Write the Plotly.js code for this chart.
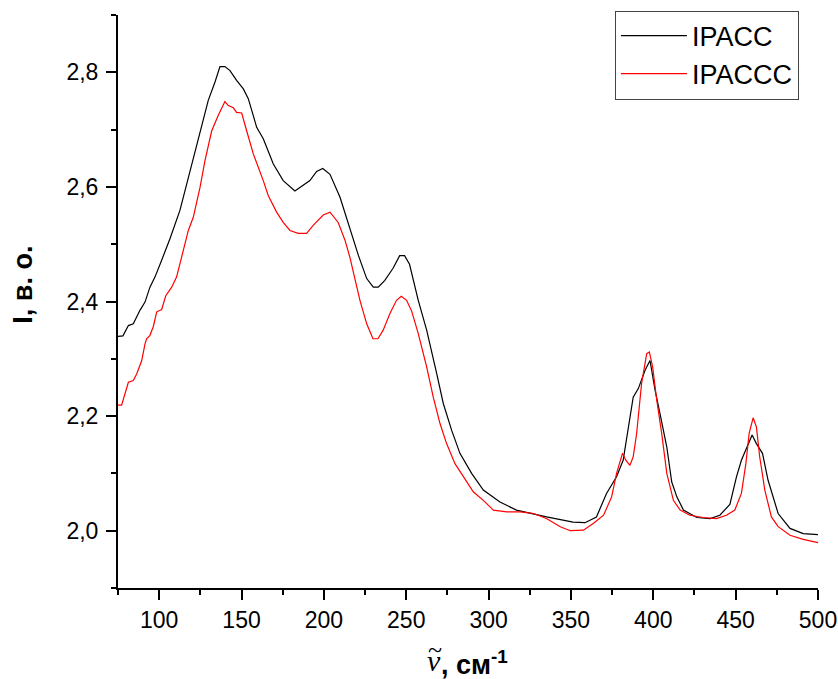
<!DOCTYPE html>
<html>
<head>
<meta charset="utf-8">
<script src="https://cdn.plot.ly/plotly-3.0.1.min.js"></script>
<style>html,body{margin:0;padding:0;background:#fff;}</style>
</head>
<body>
<div id="chart" style="width:838px;height:679px;"></div>
<script>
// IPACC (black)
const ipaccX = [75, 78, 81.3, 84.3, 88.4, 91.4, 94.4, 97.5, 101.5, 106.6, 112.6, 118.7, 124.8, 129.8, 133.9, 136.9, 139.9, 143.0, 147.0, 151.1, 154.1, 159.2, 163.2, 169.3, 175.3, 182.4, 191.5, 195.6, 199.3, 203.7, 209.8, 215.8, 221, 226, 230, 233, 237, 242, 246, 249, 252, 257.3, 262.4, 268.5, 272.5, 277.6, 282.6, 289.7, 296.8, 306.9, 316.9, 335.2, 351.3, 358.5, 365.5, 371.6, 377.7, 381.7, 384.8, 387.8, 390.9, 395, 398, 401.1, 404.1, 408.2, 411.2, 414.3, 418.3, 426.4, 434.5, 440.4, 446.5, 450.5, 453.5, 456.6, 460, 462.6, 466.3, 469.7, 475.8, 483, 491, 500];
const ipaccY = [2.339, 2.340, 2.358, 2.361, 2.385, 2.399, 2.425, 2.443, 2.472, 2.510, 2.559, 2.626, 2.695, 2.751, 2.783, 2.810, 2.810, 2.803, 2.786, 2.771, 2.754, 2.704, 2.684, 2.640, 2.611, 2.593, 2.611, 2.627, 2.632, 2.622, 2.582, 2.527, 2.480, 2.440, 2.425, 2.425, 2.437, 2.458, 2.480, 2.480, 2.465, 2.402, 2.350, 2.274, 2.222, 2.175, 2.135, 2.100, 2.071, 2.050, 2.036, 2.024, 2.015, 2.014, 2.024, 2.065, 2.094, 2.123, 2.181, 2.233, 2.248, 2.280, 2.297, 2.245, 2.204, 2.146, 2.085, 2.059, 2.036, 2.023, 2.021, 2.027, 2.046, 2.094, 2.123, 2.143, 2.167, 2.152, 2.135, 2.088, 2.030, 2.004, 1.995, 1.993];

// IPACCC (red)
const ipacccX = [75, 77.2, 81.3, 84.3, 86.4, 89.4, 91.4, 92.4, 94.4, 96.4, 98.5, 101.5, 104, 107.6, 110.6, 112.6, 117.7, 120.7, 124.8, 127.8, 131.9, 135.9, 139.9, 142, 145, 147, 150.1, 153.1, 157.1, 163.2, 166.2, 171.3, 175.3, 179.4, 184.4, 189.5, 193.5, 199.6, 203.7, 208.7, 212.8, 215.8, 221.9, 226, 229.8, 232.8, 236, 240.1, 244.1, 247, 250.2, 253.2, 257.3, 262.4, 266.4, 270.5, 274.5, 279.6, 284.7, 290.7, 296.8, 302.9, 311, 319.2, 327.3, 335.4, 343.5, 349.6, 357.6, 363.7, 369.8, 374.7, 377.7, 381.3, 383.3, 385.8, 387.8, 389.9, 392.9, 396, 397.6, 399.6, 402.1, 405.1, 408.2, 412.2, 416.3, 422.2, 430.3, 438.3, 444.4, 449.5, 453.5, 456.2, 458.2, 460.6, 462.6, 464.6, 467.7, 471.7, 475.8, 483, 491, 500];
const ipacccY = [2.219, 2.219, 2.259, 2.262, 2.274, 2.297, 2.326, 2.335, 2.341, 2.356, 2.382, 2.386, 2.410, 2.425, 2.443, 2.466, 2.524, 2.547, 2.599, 2.646, 2.698, 2.725, 2.749, 2.742, 2.738, 2.730, 2.729, 2.698, 2.658, 2.611, 2.585, 2.556, 2.538, 2.524, 2.519, 2.519, 2.533, 2.551, 2.556, 2.538, 2.507, 2.477, 2.402, 2.361, 2.335, 2.335, 2.350, 2.379, 2.402, 2.409, 2.402, 2.384, 2.344, 2.286, 2.233, 2.187, 2.152, 2.117, 2.094, 2.068, 2.053, 2.036, 2.033, 2.033, 2.030, 2.021, 2.007, 2.000, 2.001, 2.013, 2.027, 2.059, 2.100, 2.135, 2.123, 2.114, 2.129, 2.170, 2.257, 2.309, 2.312, 2.286, 2.228, 2.170, 2.100, 2.053, 2.036, 2.027, 2.023, 2.021, 2.027, 2.036, 2.065, 2.117, 2.170, 2.197, 2.181, 2.129, 2.071, 2.024, 2.007, 1.992, 1.985, 1.979];

const seriesNames = ['IPACC', 'IPACCC'];
const xTitleSymbol = 'ν';
const xTitleAccent = '~';
const xTitleUnit = ', см<sup>-1</sup>';
const yTitle = 'I, в. о.';

const font = 'Liberation Sans, Arial, sans-serif';
const serif = 'Liberation Serif, Times New Roman, serif';

const traces = [
  {x: ipaccX, y: ipaccY, name: seriesNames[0], type: 'scatter', mode: 'lines',
   line: {color: '#000000', width: 1.2}},
  {x: ipacccX, y: ipacccY, name: seriesNames[1], type: 'scatter', mode: 'lines',
   line: {color: '#ff0000', width: 1.2}}
];

const axisCommon = {
  showgrid: false, zeroline: false, showline: true, linewidth: 2, linecolor: '#000',
  ticks: 'outside', ticklen: 10, tickwidth: 2, tickcolor: '#000',
  tickfont: {family: font, size: 23, color: '#000'},
  mirror: false
};

const layout = {
  width: 838, height: 679,
  margin: {l: 118, r: 20, t: 14, b: 91, pad: 0},
  paper_bgcolor: '#fff', plot_bgcolor: '#fff',
  separators: ', ',
  font: {family: font, color: '#000'},
  xaxis: Object.assign({}, axisCommon, {
    range: [75, 500], tickmode: 'linear', tick0: 0, dtick: 50,
    minor: {tick0: 0, dtick: 25, ticks: 'outside', ticklen: 5, tickwidth: 2, tickcolor: '#000', showgrid: false}
  }),
  yaxis: Object.assign({}, axisCommon, {
    range: [1.9, 2.9], tickmode: 'linear', tick0: 2.0, dtick: 0.2, tickformat: '.1f',
    ticklabelstandoff: 3,
    minor: {tick0: 2.0, dtick: 0.1, ticks: 'outside', ticklen: 5, tickwidth: 2, tickcolor: '#000', showgrid: false}
  }),
  showlegend: true,
  legend: {
    x: 0.9728, xanchor: 'right', y: 1.006, yanchor: 'top',
    bgcolor: '#fff', bordercolor: '#444', borderwidth: 1,
    font: {family: font, size: 27, color: '#000'},
    itemwidth: 66, tracegroupgap: 0
  },
  annotations: [
    {text: yTitle, xref: 'paper', yref: 'paper', x: -0.137, y: 0.5296,
     xanchor: 'center', yanchor: 'middle', textangle: -90, showarrow: false,
     font: {family: font, size: 27, color: '#000', weight: 'bold'}},
    {text: xTitleSymbol, xref: 'paper', yref: 'paper', x: 0.4514, y: -0.1272,
     xanchor: 'center', yanchor: 'middle', showarrow: false,
     font: {family: serif, size: 30, color: '#000', style: 'italic'}},
    {text: xTitleAccent, xref: 'paper', yref: 'paper', x: 0.4529, y: -0.108,
     xanchor: 'center', yanchor: 'middle', showarrow: false,
     font: {family: serif, size: 26, color: '#000'}},
    {text: xTitleUnit, xref: 'paper', yref: 'paper', x: 0.4586, y: -0.1310,
     xanchor: 'left', yanchor: 'middle', showarrow: false,
     font: {family: font, size: 27, color: '#000', weight: 'bold'}}
  ]
};

Plotly.newPlot('chart', traces, layout, {displayModeBar: false, staticPlot: true});
</script>
</body>
</html>
